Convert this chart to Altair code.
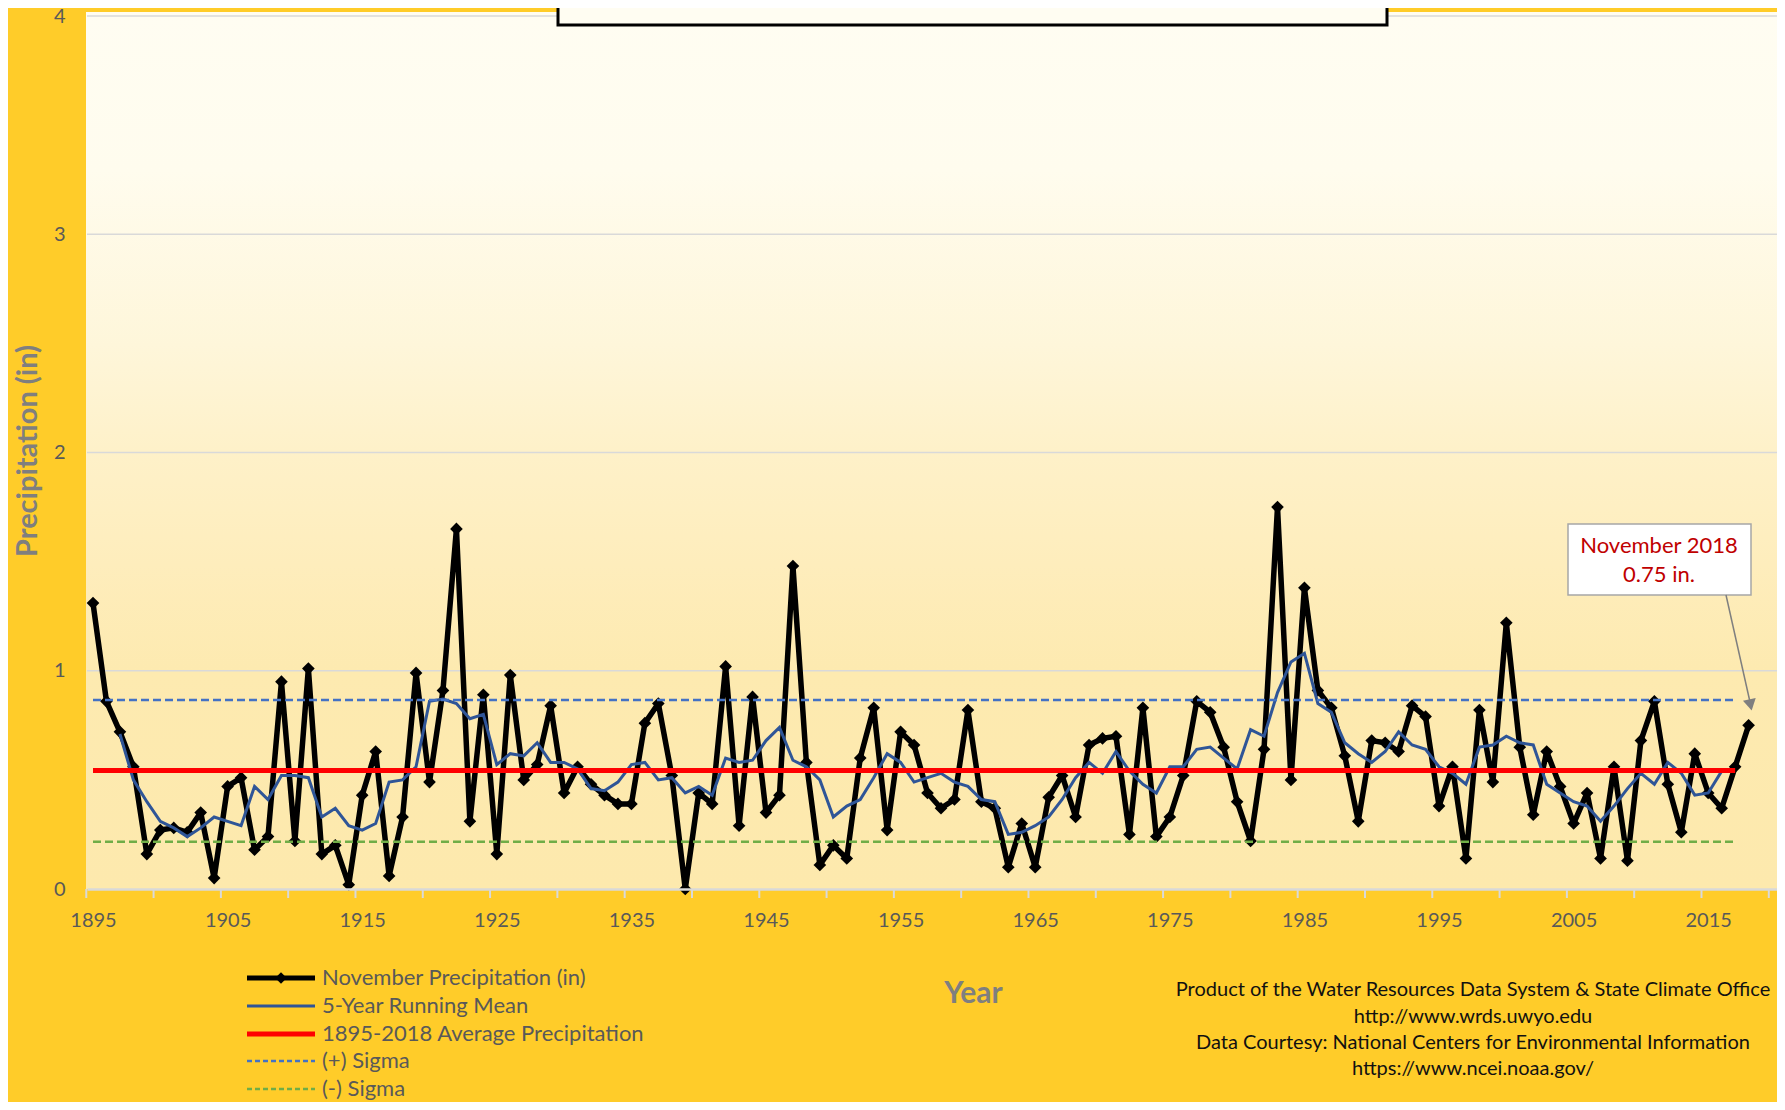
import altair as alt
import pandas as pd

# ---------------- data ----------------
years = list(range(1895, 2019))
precip = [
    1.31, 0.86, 0.72, 0.56, 0.16, 0.27, 0.28, 0.26, 0.35, 0.05,
    0.47, 0.51, 0.18, 0.24, 0.95, 0.22, 1.01, 0.16, 0.20, 0.02,
    0.43, 0.63, 0.06, 0.33, 0.99, 0.49, 0.91, 1.65, 0.31, 0.89,
    0.16, 0.98, 0.50, 0.57, 0.84, 0.44, 0.56, 0.48, 0.43, 0.39,
    0.39, 0.76, 0.85, 0.52, 0.00, 0.44, 0.39, 1.02, 0.29, 0.88,
    0.35, 0.43, 1.48, 0.58, 0.11, 0.20, 0.14, 0.60, 0.83, 0.27,
    0.72, 0.66, 0.44, 0.37, 0.41, 0.82, 0.40, 0.37, 0.10, 0.30,
    0.10, 0.42, 0.52, 0.33, 0.66, 0.69, 0.70, 0.25, 0.83, 0.24,
    0.33, 0.52, 0.86, 0.81, 0.65, 0.40, 0.22, 0.64, 1.75, 0.50,
    1.38, 0.91, 0.83, 0.61, 0.31, 0.68, 0.67, 0.63, 0.84, 0.79,
    0.38, 0.56, 0.14, 0.82, 0.49, 1.22, 0.65, 0.34, 0.63, 0.47,
    0.30, 0.44, 0.14, 0.56, 0.13, 0.68, 0.86, 0.48, 0.26, 0.62,
    0.44, 0.37, 0.56, 0.75,
]
rm_years = list(range(1897, 2017))
running_mean = [
    0.71, 0.50, 0.40, 0.31, 0.28, 0.24, 0.28, 0.33, 0.31, 0.29,
    0.47, 0.41, 0.52, 0.52, 0.51, 0.33, 0.37, 0.29, 0.27, 0.30,
    0.49, 0.50, 0.56, 0.86, 0.87, 0.85, 0.78, 0.80, 0.57, 0.62,
    0.61, 0.67, 0.58, 0.58, 0.55, 0.46, 0.45, 0.49, 0.57, 0.58,
    0.50, 0.51, 0.44, 0.47, 0.43, 0.60, 0.58, 0.59, 0.68, 0.74,
    0.59, 0.56, 0.50, 0.33, 0.38, 0.41, 0.51, 0.62, 0.58, 0.49,
    0.51, 0.53, 0.49, 0.47, 0.41, 0.40, 0.25, 0.26, 0.29, 0.33,
    0.41, 0.51, 0.58, 0.53, 0.63, 0.54, 0.48, 0.44, 0.56, 0.56,
    0.64, 0.65, 0.60, 0.55, 0.73, 0.70, 0.90, 1.04, 1.08, 0.85,
    0.81, 0.67, 0.62, 0.58, 0.63, 0.72, 0.66, 0.64, 0.56, 0.53,
    0.48, 0.65, 0.66, 0.70, 0.67, 0.66, 0.48, 0.44, 0.40, 0.38,
    0.31, 0.38, 0.46, 0.53, 0.48, 0.58, 0.53, 0.43, 0.44, 0.54,
]
ref_years = [1895, 2017]
average = 0.543
plus_sigma = 0.866
minus_sigma = 0.216

x_label_years = list(range(1895, 2016, 10))
x_tick_years = [1894.5 + 5 * k for k in range(26)]
y_grid_values = [1, 2, 3, 4]
y_label_values = [0, 1, 2, 3, 4]

legend_labels = [
    "November Precipitation (in)",
    "5-Year Running Mean",
    "1895-2018 Average Precipitation",
    "(+) Sigma",
    "(-) Sigma",
]
footer_lines = [
    "Product of the Water Resources Data System & State Climate Office",
    "http://www.wrds.uwyo.edu",
    "Data Courtesy: National Centers for Environmental Information",
    "https://www.ncei.noaa.gov/",
]
annotation_lines = ["November 2018", "0.75 in."]

# ---------------- layout / style ----------------
W, H = 1690, 873
FONT = "Lato"
GOLD = "#FFCC29"
x_scale = alt.Scale(domain=[1894.554, 2020.11], nice=False, zero=False)
y_scale = alt.Scale(domain=[0, 4], nice=False, zero=True)

precip_df = pd.DataFrame({"year": years, "value": precip})
rm_df = pd.DataFrame({"year": rm_years, "value": running_mean})
avg_df = pd.DataFrame({"year": ref_years, "value": [average] * 2})
plus_df = pd.DataFrame({"year": ref_years, "value": [plus_sigma] * 2})
minus_df = pd.DataFrame({"year": ref_years, "value": [minus_sigma] * 2})
grid_df = pd.DataFrame({"v": y_grid_values, "x0": [1894.554] * 4, "x1": [2020.11] * 4})
tick_df = pd.DataFrame({"t": x_tick_years})
one = pd.DataFrame({"a": [0]})

x_axis = alt.Axis(
    values=x_label_years, format="d", grid=False, ticks=False,
    domain=True, domainColor="#D9D9D9", domainWidth=2.5, zindex=1,
    labelFont=FONT, labelFontSize=20, labelColor="#595959",
    labelBaseline="middle", labelPadding=31,
    title="Year", titleFont=FONT, titleFontSize=30, titleFontWeight="bold",
    titleColor="#7F7F7F", titleX=886, titleY=104, titleAlign="center",
    titleBaseline="middle",
)
y_axis = alt.Axis(
    values=y_label_values, format="d", grid=False, ticks=False, domain=False,
    labelFont=FONT, labelFontSize=20, labelColor="#595959", labelPadding=22,
    title="Precipitation (in)", titleFont=FONT, titleFontSize=29,
    titleFontWeight="bold", titleColor="#7F7F7F", titleX=-60, titleY=434.5,
    titleAngle=270, titleAlign="center", titleBaseline="middle",
)

gradient = alt.Gradient(
    gradient="linear",
    stops=[
        alt.GradientStop(color="#FFFDF2", offset=0),
        alt.GradientStop(color="#FFFCEE", offset=0.18),
        alt.GradientStop(color="#FEF6DA", offset=0.38),
        alt.GradientStop(color="#FEF1C9", offset=0.5),
        alt.GradientStop(color="#FEEDBC", offset=0.63),
        alt.GradientStop(color="#FDEAB0", offset=0.75),
        alt.GradientStop(color="#FDE9AD", offset=1),
    ],
    x1=0, x2=0, y1=0, y2=1,
)

bg = alt.Chart(one).mark_rect(fill=gradient).encode(
    x=alt.value(-1), x2=alt.value(W), y=alt.value(-4), y2=alt.value(H)
)

grid = alt.Chart(grid_df).mark_rule(color="#D9D9D9", strokeWidth=1.5).encode(
    x=alt.X("x0:Q", scale=x_scale, axis=x_axis),
    x2="x1:Q",
    y=alt.Y("v:Q", scale=y_scale, axis=y_axis),
)

ticks = alt.Chart(tick_df).mark_rule(color="#D9D9D9", strokeWidth=2).encode(
    x=alt.X("t:Q", scale=x_scale), y=alt.value(H), y2=alt.value(H + 9)
)

enc = dict(
    x=alt.X("year:Q", scale=x_scale),
    y=alt.Y("value:Q", scale=y_scale),
)

precip_line = alt.Chart(precip_df).mark_line(
    color="#000000", strokeWidth=5.5, strokeJoin="round"
).encode(**enc)
precip_pts = alt.Chart(precip_df).mark_point(
    shape="diamond", filled=True, size=160, color="#000000", opacity=1
).encode(**enc)
rm_line = alt.Chart(rm_df).mark_line(color="#2F5597", strokeWidth=3).encode(**enc)
avg_line = alt.Chart(avg_df).mark_line(color="#FF0000", strokeWidth=5).encode(**enc)
plus_line = alt.Chart(plus_df).mark_line(
    color="#4472C4", strokeWidth=2.5, strokeDash=[8, 4]
).encode(**enc)
minus_line = alt.Chart(minus_df).mark_line(
    color="#70AD47", strokeWidth=2.5, strokeDash=[8, 4]
).encode(**enc)

# top (cut-off) title box
top_box = alt.Chart(one).mark_rect(fill="#FFFDF2", stroke="#000000", strokeWidth=3).encode(
    x=alt.value(471), x2=alt.value(1300), y=alt.value(-40), y2=alt.value(9)
)

# annotation
ann_box = alt.Chart(one).mark_rect(fill="#FFFFFF", stroke="#A6A6A6", strokeWidth=1.5).encode(
    x=alt.value(1481), x2=alt.value(1664), y=alt.value(508), y2=alt.value(579)
)
ann_texts = [
    alt.Chart(one).mark_text(
        text=t, font=FONT, fontSize=22, color="#C00000", align="center", baseline="middle"
    ).encode(x=alt.value(1572), y=alt.value(yy))
    for t, yy in zip(annotation_lines, [530, 559])
]
arrow = alt.Chart(one).mark_rule(color="#7F7F7F", strokeWidth=1.5).encode(
    x=alt.value(1639), x2=alt.value(1663), y=alt.value(579), y2=alt.value(686)
)
arrow_head = alt.Chart(one).mark_point(
    shape="triangle-down", filled=True, size=170, color="#7F7F7F", opacity=1, angle=348
).encode(x=alt.value(1663.5), y=alt.value(689))

# legend (manual)
leg_styles = [
    dict(color="#000000", strokeWidth=5),
    dict(color="#2F5597", strokeWidth=3),
    dict(color="#FF0000", strokeWidth=5),
    dict(color="#4472C4", strokeWidth=2.5, strokeDash=[5, 3]),
    dict(color="#70AD47", strokeWidth=2.5, strokeDash=[5, 3]),
]
leg_rows = [962, 990, 1018, 1045, 1073]
legend_layers = []
for lab, sty, yy in zip(legend_labels, leg_styles, leg_rows):
    legend_layers.append(
        alt.Chart(one).mark_rule(**sty).encode(
            x=alt.value(160), x2=alt.value(228), y=alt.value(yy)
        )
    )
    legend_layers.append(
        alt.Chart(one).mark_text(
            text=lab, font=FONT, fontSize=22, color="#595959", align="left", baseline="middle"
        ).encode(x=alt.value(235), y=alt.value(yy))
    )
legend_layers.append(
    alt.Chart(one).mark_point(shape="diamond", filled=True, size=130, color="#000000", opacity=1).encode(
        x=alt.value(194), y=alt.value(leg_rows[0])
    )
)

footer_layers = [
    alt.Chart(one).mark_text(
        text=t, font=FONT, fontSize=20, color="#111111", align="center", baseline="middle"
    ).encode(x=alt.value(1386), y=alt.value(yy))
    for t, yy in zip(footer_lines, [974, 1001, 1027, 1053])
]

chart = alt.layer(
    bg, grid, ticks, precip_line, precip_pts, rm_line, avg_line, plus_line, minus_line,
    top_box, ann_box, *ann_texts, arrow, arrow_head, *legend_layers, *footer_layers,
).properties(
    width=W, height=H,
    autosize=alt.AutoSizeParams(type="none"),
    padding={"left": 79, "top": 8, "right": 0, "bottom": 213},
    background=GOLD,
).configure_view(strokeWidth=0)

chart.save("out.html", embed_options={"renderer": "svg", "actions": False})
